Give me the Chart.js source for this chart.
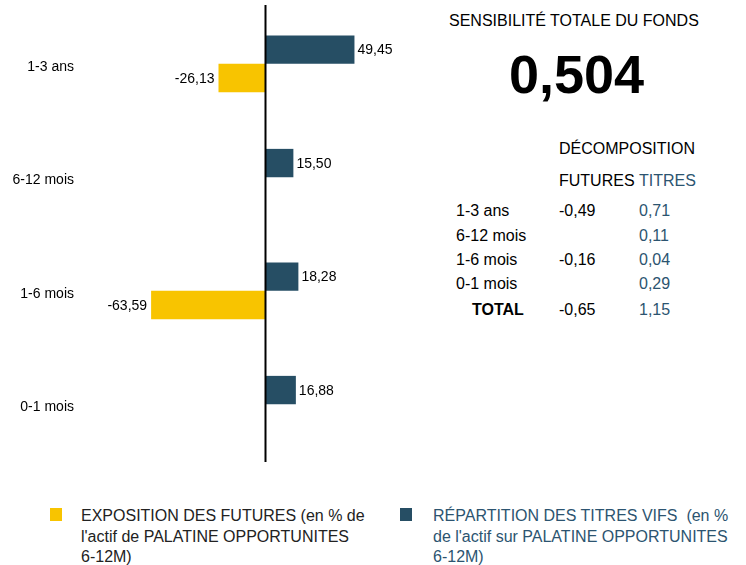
<!DOCTYPE html>
<html>
<head>
<meta charset="utf-8">
<script src="https://cdn.jsdelivr.net/npm/chart.js@4.4.0/dist/chart.umd.min.js"></script>
<style>
  body { margin: 0; width: 746px; height: 565px; background: #fff; font-family: "Liberation Sans", Arial, sans-serif; position: relative; overflow: hidden; }
  #chartBox { position: absolute; left: 0; top: 0; width: 440px; height: 470px; }
  .t { position: absolute; white-space: nowrap; line-height: 1; color: #000; }
  .blue { color: #2c5470; }
  .sq { position: absolute; width: 12px; height: 13px; }
  .leg { position: absolute; font-size: 16px; line-height: 20.5px; white-space: nowrap; }
</style>
</head>
<body>
<div id="chartBox"><canvas id="bars"></canvas></div>
<div id="panel"></div>
<div id="legend"></div>
<script>
const categories = ['1-3 ans', '6-12 mois', '1-6 mois', '0-1 mois'];
const titresValues = [49.45, 15.50, 18.28, 16.88];
const futuresValues = [-26.13, null, -63.59, null];

const sensibiliteTotale = 0.504;
const sensFutures = [-0.49, null, -0.16, null];
const sensTitres = [0.71, 0.11, 0.04, 0.29];
const totalFutures = -0.65;
const totalTitres = 1.15;

const yellow = '#f8c400';
const blue = '#264e64';

const fr = (v, d) => v.toFixed(d).replace('.', ',');

// value labels next to each bar + the vertical zero line
const barLabels = {
    id: 'barLabels',
    afterDatasetsDraw(chart) {
        const ctx = chart.ctx;
        const area = chart.chartArea;
        const x0 = chart.scales.x.getPixelForValue(0);
        ctx.save();
        ctx.strokeStyle = '#000';
        ctx.lineWidth = 2;
        ctx.beginPath();
        ctx.moveTo(x0, area.top - 2);
        ctx.lineTo(x0, area.bottom + 1);
        ctx.stroke();

        ctx.font = '14px "Liberation Sans", Arial, sans-serif';
        ctx.fillStyle = '#000';
        ctx.textBaseline = 'middle';
        chart.data.datasets.forEach((ds, i) => {
            chart.getDatasetMeta(i).data.forEach((bar, j) => {
                const v = ds.data[j];
                if (v === null) return;
                if (v >= 0) {
                    ctx.textAlign = 'left';
                    ctx.fillText(fr(v, 2), bar.x + 3, bar.y + 1);
                } else {
                    ctx.textAlign = 'right';
                    ctx.fillText(fr(v, 2), bar.x - 4, bar.y + 1);
                }
            });
        });
        ctx.restore();
    }
};

new Chart(document.getElementById('bars'), {
    type: 'bar',
    data: {
        labels: categories,
        datasets: [
            { label: 'Titres', data: titresValues, backgroundColor: blue },
            { label: 'Futures', data: futuresValues, backgroundColor: yellow }
        ]
    },
    options: {
        indexAxis: 'y',
        responsive: true,
        maintainAspectRatio: false,
        animation: false,
        categoryPercentage: 0.5,
        barPercentage: 1.0,
        layout: { padding: { top: 7, bottom: 9, left: 0, right: 0 } },
        plugins: {
            legend: { display: false },
            tooltip: { enabled: false }
        },
        scales: {
            x: {
                display: false,
                min: -97,
                max: 97
            },
            y: {
                afterFit: s => { s.width = 91; s.paddingTop = 0; s.paddingBottom = 0; },
                ticks: {
                    padding: 17,
                    labelOffset: 3,
                    color: '#000',
                    font: { family: '"Liberation Sans", Arial, sans-serif', size: 14 }
                },
                grid: { display: false, drawTicks: false },
                border: { display: false }
            }
        }
    },
    plugins: [barLabels]
});

// right-hand summary panel
const panel = document.getElementById('panel');
const put = (txt, x, cy, size, extra) => {
    const d = document.createElement('div');
    d.className = 't' + (extra && extra.cls ? ' ' + extra.cls : '');
    d.textContent = txt;
    d.style.left = x + 'px';
    d.style.top = (cy - 0.49 * size) + 'px';
    d.style.fontSize = size + 'px';
    if (extra && extra.bold) d.style.fontWeight = 'bold';
    panel.appendChild(d);
};
put('SENSIBILITÉ TOTALE DU FONDS', 449, 20.5, 16);
put(fr(sensibiliteTotale, 3), 509, 73, 54, { bold: true });
put('DÉCOMPOSITION', 559, 149, 16);
put('FUTURES', 559, 180.5, 16);
put('TITRES', 639, 180.5, 16, { cls: 'blue' });
const rowY = [211, 236, 259.5, 284];
categories.forEach((c, i) => {
    put(c, 456, rowY[i], 16);
    if (sensFutures[i] !== null) put(fr(sensFutures[i], 2), 559, rowY[i], 16);
    put(fr(sensTitres[i], 2), 639, rowY[i], 16, { cls: 'blue' });
});
put('TOTAL', 472, 309.5, 16, { bold: true });
put(fr(totalFutures, 2), 559, 309.5, 16);
put(fr(totalTitres, 2), 639, 309.5, 16, { cls: 'blue' });

// bottom legend
document.getElementById('legend').innerHTML = `
  <div class="sq" style="left:50px;top:508px;background:${yellow}"></div>
  <div class="leg" style="left:81px;top:506px;color:#222">EXPOSITION DES FUTURES (en % de<br>l'actif de PALATINE OPPORTUNITES<br>6-12M)</div>
  <div class="sq" style="left:400px;top:508px;background:${blue}"></div>
  <div class="leg" style="left:433px;top:506px;color:#2c5470">RÉPARTITION DES TITRES VIFS&nbsp; (en %<br>de l'actif sur PALATINE OPPORTUNITES<br>6-12M)</div>
`;
</script>
</body>
</html>
